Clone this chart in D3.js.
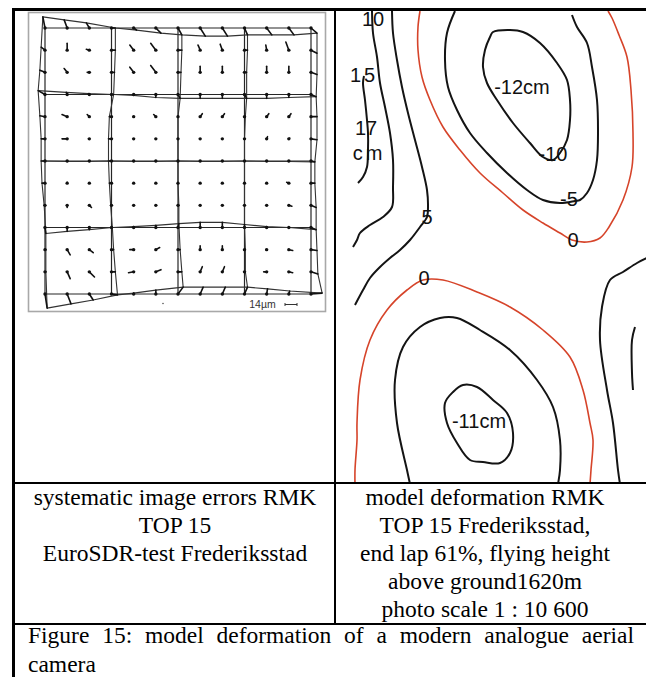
<!DOCTYPE html>
<html><head><meta charset="utf-8">
<script src="https://cdn.jsdelivr.net/npm/d3@7"></script>
<style>html,body{margin:0;padding:0;background:#fff}svg{display:block}</style>
</head><body>
<script>
// ---------- DATA ----------
// Left panel: systematic image errors at a 13 x 13 grid of image points (µm), rows top->bottom, columns left->right
const errDX = [
 [-2.5,-3.5,-3.5,4.5,3.5,6,4.5,6,6,3.5,6,6,7],
 [-4.5,0,-3.5,4.5,-4.5,-6,4.5,-2.5,-2.5,3.5,-1,-3.5,7],
 [-6,-3.5,-2.5,3.5,-4.5,-6,3.5,0,0,2.5,0,0,7],
 [-8,-1,-1,2.5,0,0,2.5,0,0,2.5,0,0,6],
 [-6,-6,-2.5,-2.5,0,-2.5,0,2.5,2.5,1,2.5,2.5,7],
 [-4.5,-6,-1,-3.5,0,0,0,0,0,0,1,1,7],
 [-4.5,0,0,-3.5,0,0,0,0,0,0,0,0,4.5],
 [-3.5,0,0,-2.5,0,0,0,0,0,0,0,-2.5,4.5],
 [-1,0,2.5,-1,0,0,1,0,0,0,0,3.5,6],
 [1,0,0,1,0,0,1,0,0,0,0,0,6],
 [1,3.5,4.5,2.5,-4.5,4.5,2.5,0,0,1,-1,4.5,7],
 [1,3.5,6,4.5,-6,6,4.5,2.5,2.5,1,-3.5,4.5,8],
 [2.5,4.5,4.5,7,0,0,6,3.5,3.5,3.5,1,1,13]
];
const errDY = [
 [-13,-9.5,-6,0,2.5,6,8,9.5,9.5,8,8,8,6],
 [-3.5,-8,-1,0,-6,-8,0,-6,-7,0,-6,-9.5,3.5],
 [-2.5,-4.5,0,0,-6,-8,0,-7,-7,0,-7,-7,2.5],
 [-4.5,-2.5,-1,0,1,3.5,4.5,4.5,4.5,4.5,4.5,3.5,2.5],
 [-1,-2.5,-2.5,0,0,-2.5,0,-3.5,-3.5,0,-3.5,-3.5,0],
 [0,0,0,0,0,0,0,0,0,0,-2.5,-1,1],
 [0,0.5,0.5,0,0.5,0.5,0,0.5,0.5,0,0.5,0.5,1],
 [0,-1,0,0,0,0,0,0,0,0,0,-1,0],
 [0,2.5,2.5,0,0,0,0,0,0,0,0,1,2.5],
 [7,4.5,2.5,0,-1,-2.5,-4.5,-6,-6,-3.5,-1,0,2.5],
 [0,6,3.5,0,0,-2.5,0,-4.5,-4.5,0,0,1,1],
 [0,8,6,0,1,-2.5,0,-6,-6,0,0,1,2.5],
 [16.5,11.5,7,1,-1,-4.5,-8,-8,-8,-8,-6,-3.5,-1]
];
const gridLineIdx = [0,3,6,9,12];
const scaleBarValue = 14; // µm
const scaleBarLabel = "14µm";

// Right panel: model deformation contours (model coordinates, x right, y down)
const contour10   = [[37,2],[38,24],[42,48],[45,74],[50,98],[55,124],[58,151],[58,178],[57,198],[48,208],[35,216],[25,224],[22,231],[18,238]];
const contour15   = [[29,67],[28,74],[30,91],[32,111],[33,124],[33,141],[32,158],[28,168],[23,174]];
const contour5L   = [[57,2],[58,24],[62,51],[67,78],[73,104],[80,131],[87,158],[92,181],[93,198],[92,208],[85,218],[75,231],[65,241],[55,249],[45,258],[35,269],[28,281],[20,296]];
const contour0Top = [[85,2],[83,18],[83,41],[87,68],[95,91],[108,118],[125,141],[145,164],[168,184],[188,201],[208,214],[225,224],[237,231],[252,233],[265,229],[274,218],[288,191],[297,158],[298,124],[296,81],[292,48],[284,26],[277,9],[273,2]];
const contourM5Top= [[120,2],[112,24],[110,51],[113,78],[122,101],[135,124],[152,144],[172,164],[192,181],[208,191],[225,194],[240,192],[245,191],[252,184],[258,171],[262,151],[263,124],[262,91],[257,58],[252,34],[242,18],[237,6]];
const contourM10  = [[158,23],[175,21],[188,23],[205,34],[222,54],[232,71],[235,91],[235,111],[232,131],[225,144],[218,151],[208,148],[195,134],[178,114],[162,91],[152,74],[148,58],[150,41],[155,28]];
const contour0Bot = [[20,475],[20,461],[22,431],[22,414],[25,371],[35,331],[52,301],[72,281],[88,271],[108,271],[142,283],[175,298],[208,321],[235,348],[248,381],[255,414],[258,431],[256,461],[255,475]];
const contourM5Bot= [[75,475],[72,461],[62,414],[60,371],[68,338],[85,318],[105,309],[122,309],[145,321],[175,341],[202,371],[218,398],[225,431],[225,461],[223,475]];
const contourM11  = [[128,376],[142,378],[158,391],[172,404],[178,424],[175,444],[165,454],[148,453],[135,451],[122,434],[112,414],[110,394],[118,383]];
const contour5R   = [[312,249],[302,254],[288,263],[275,271],[267,298],[265,331],[272,381],[278,414],[283,461],[285,475]];
const contour5R2  = [[300,318],[297,331],[297,364],[298,381]];

const labelText = ["10","15","17","cm","-12cm","-10","-5","0","5","0","-11cm"];
const labelX    = [38, 29, 31, 34, 187, 218, 234, 238, 92, 89, 144];
const labelY    = [9.5, 65.5, 119, 144, 78, 145, 190, 231, 208, 269, 412];

const captionLeft  = ["systematic image errors RMK","TOP 15","EuroSDR-test Frederiksstad"];
const captionRight = ["model deformation RMK","TOP 15 Frederiksstad,","end lap 61%, flying height","above ground1620m","photo scale 1 : 10 600"];
const figureCaption = ["Figure 15: model deformation of a modern analogue aerial","camera"];

// ---------- DRAW ----------
const W = 646, H = 677;
const svg = d3.select("body").append("svg").attr("width", W).attr("height", H);

// Left panel
const left = svg.append("g");
left.append("rect").attr("x",28.5).attr("y",12.5).attr("width",297).attr("height",299)
  .attr("fill","none").attr("stroke","#a8a8a8").attr("stroke-width",1.6);

const gx = d3.scaleLinear().domain([0,12]).range([45,311]);
const gy = d3.scaleLinear().domain([0,12]).range([28,294]);
const vs = d3.scaleLinear().domain([0,scaleBarValue]).range([0,12]);
const ink = "#262626";

gridLineIdx.forEach(k=>{
  left.append("line").attr("x1",gx(0)).attr("x2",gx(12)).attr("y1",gy(k)).attr("y2",gy(k))
    .attr("stroke",ink).attr("stroke-width",1.2);
  left.append("line").attr("y1",gy(0)).attr("y2",gy(12)).attr("x1",gx(k)).attr("x2",gx(k))
    .attr("stroke",ink).attr("stroke-width",1.2);
});
const dl = d3.line().x(d=>d[0]).y(d=>d[1]);
const idx = d3.range(13);
gridLineIdx.forEach(k=>{
  const hp = idx.map(i=>[gx(i)+vs(errDX[k][i]), gy(k)+vs(errDY[k][i])]);
  const vp = idx.map(j=>[gx(k)+vs(errDX[j][k]), gy(j)+vs(errDY[j][k])]);
  [hp,vp].forEach(p=>left.append("path").attr("d",dl(p)).attr("fill","none")
    .attr("stroke","#333").attr("stroke-width",1.1));
});
idx.forEach(j=>idx.forEach(i=>{
  const x0=gx(i), y0=gy(j);
  left.append("line").attr("x1",x0).attr("y1",y0)
    .attr("x2",x0+vs(errDX[j][i])).attr("y2",y0+vs(errDY[j][i]))
    .attr("stroke","#111").attr("stroke-width",1.6).attr("stroke-linecap","round");
  left.append("circle").attr("cx",x0).attr("cy",y0).attr("r",1.7).attr("fill","#111");
}));
// scale bar
left.append("text").attr("x",262.5).attr("y",307.5).attr("text-anchor","middle")
  .attr("font-family","Liberation Sans, Arial, sans-serif").attr("font-size",10.5).attr("fill","#333")
  .text(scaleBarLabel);
const sbx = 285, sby = 304.5;
left.append("path").attr("d",`M${sbx},${sby-1.5}V${sby+1.5}M${sbx},${sby}H${sbx+vs(scaleBarValue)}M${sbx+vs(scaleBarValue)},${sby-1.5}V${sby+1.5}`)
  .attr("stroke","#333").attr("stroke-width",1).attr("fill","none");
left.append("circle").attr("cx",163).attr("cy",303.5).attr("r",0.8).attr("fill","#555");

// Right panel
const cx = d3.scaleLinear().domain([0,311]).range([335,646]);
const cy = d3.scaleLinear().domain([0,473]).range([9,482]);
svg.append("clipPath").attr("id","rc").append("rect").attr("x",336).attr("y",10).attr("width",310).attr("height",472);
const right = svg.append("g").attr("clip-path","url(#rc)");
const black = "#141414", red = "#d6442a";
const openL = d3.line().x(d=>cx(d[0])).y(d=>cy(d[1])).curve(d3.curveCatmullRom.alpha(0.5));
const closedL = d3.line().x(d=>cx(d[0])).y(d=>cy(d[1])).curve(d3.curveCatmullRomClosed.alpha(0.5));
const contourList = [
  [contour10,black,false],[contour15,black,false],[contour5L,black,false],
  [contour0Top,red,false],[contourM5Top,black,false],[contourM10,black,true],
  [contour0Bot,red,false],[contourM5Bot,black,false],[contourM11,black,true],
  [contour5R,black,false],[contour5R2,black,false]
];
contourList.forEach(([pts,col,closed])=>{
  right.append("path").attr("d",(closed?closedL:openL)(pts)).attr("fill","none")
    .attr("stroke",col).attr("stroke-width",col===red?1.6:2).attr("stroke-linejoin","round");
});
labelText.forEach((t,k)=>{
  const sp = (t==="15"||t==="cm") ? 3 : 0;
  right.append("text").attr("x",cx(labelX[k])).attr("y",cy(labelY[k])+7)
    .attr("text-anchor","middle").attr("font-family","Liberation Sans, Arial, sans-serif")
    .attr("font-size",20).attr("letter-spacing",sp).attr("fill","#111").text(t);
});

// Table rules
const rule = (x1,y1,x2,y2,w)=>svg.append("line").attr("x1",x1).attr("y1",y1).attr("x2",x2).attr("y2",y2)
  .attr("stroke","#000").attr("stroke-width",w);
rule(12,9.5,646,9.5,3);
rule(13.5,8,13.5,677,3);
rule(335,9,335,624,2);
rule(13,483,646,483,2);
rule(13,624,646,624,2);

// Captions
const serif = "Liberation Serif, Times New Roman, serif";
captionLeft.forEach((t,k)=>svg.append("text").attr("x",175).attr("y",505+k*28)
  .attr("text-anchor","middle").attr("font-family",serif).attr("font-size",23.5).attr("fill","#000").text(t));
captionRight.forEach((t,k)=>svg.append("text").attr("x",485).attr("y",505+k*28)
  .attr("text-anchor","middle").attr("font-family",serif).attr("font-size",23.5).attr("fill","#000").text(t));
const f1 = svg.append("text").attr("x",28).attr("y",643).attr("font-family",serif)
  .attr("font-size",23.5).attr("fill","#000").text(figureCaption[0]);
const natural = f1.node().getComputedTextLength();
const gaps = figureCaption[0].split(" ").length-1;
f1.attr("word-spacing",(634-28-natural)/gaps);
svg.append("text").attr("x",28).attr("y",672).attr("font-family",serif)
  .attr("font-size",23.5).attr("fill","#000").text(figureCaption[1]);
</script>
</body></html>
